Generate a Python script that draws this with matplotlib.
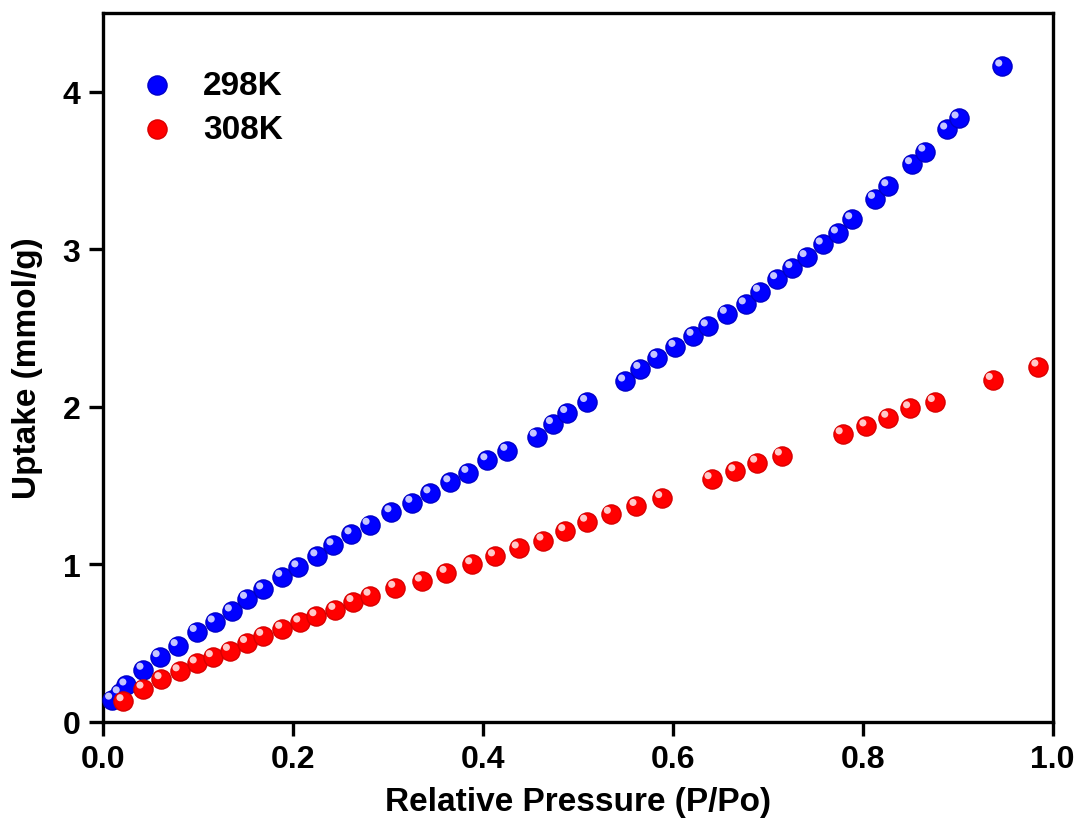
import matplotlib.pyplot as plt
from matplotlib.transforms import offset_copy

# datos
p_298 = [0.010, 0.018, 0.025, 0.043, 0.060, 0.079, 0.099, 0.118, 0.136, 0.152,
         0.169, 0.189, 0.206, 0.226, 0.243, 0.262, 0.281, 0.304, 0.326, 0.345,
         0.366, 0.385, 0.405, 0.426, 0.457, 0.474, 0.489, 0.510, 0.550, 0.566,
         0.584, 0.603, 0.622, 0.637, 0.657, 0.677, 0.692, 0.710, 0.726, 0.741,
         0.758, 0.774, 0.789, 0.813, 0.827, 0.852, 0.866, 0.889, 0.901, 0.947]
q_298 = [0.14, 0.18, 0.23, 0.33, 0.41, 0.48, 0.57, 0.63, 0.70, 0.78,
         0.84, 0.92, 0.98, 1.05, 1.12, 1.19, 1.25, 1.33, 1.39, 1.45,
         1.52, 1.58, 1.66, 1.72, 1.81, 1.89, 1.96, 2.03, 2.16, 2.24,
         2.31, 2.38, 2.45, 2.51, 2.59, 2.65, 2.73, 2.81, 2.88, 2.95,
         3.03, 3.10, 3.19, 3.32, 3.40, 3.54, 3.62, 3.76, 3.83, 4.16]

p_308 = [0.022, 0.043, 0.062, 0.081, 0.099, 0.116, 0.134, 0.152, 0.169, 0.189,
         0.208, 0.225, 0.245, 0.264, 0.282, 0.308, 0.336, 0.362, 0.389, 0.413,
         0.438, 0.464, 0.487, 0.510, 0.535, 0.562, 0.589, 0.641, 0.666, 0.689,
         0.715, 0.779, 0.804, 0.827, 0.850, 0.876, 0.937, 0.985]
q_308 = [0.13, 0.21, 0.27, 0.32, 0.37, 0.41, 0.45, 0.50, 0.545, 0.59,
         0.63, 0.67, 0.71, 0.76, 0.80, 0.85, 0.89, 0.945, 1.00, 1.05,
         1.10, 1.15, 1.21, 1.27, 1.32, 1.37, 1.42, 1.54, 1.59, 1.645,
         1.69, 1.825, 1.875, 1.93, 1.99, 2.03, 2.17, 2.255]

series = [('298K', p_298, q_298, '#0000ff', '#0000c8', '#dcdcff'),
          ('308K', p_308, q_308, '#ff0000', '#d80000', '#ffe0e0')]

plt.rcParams['font.family'] = ['Liberation Sans', 'DejaVu Sans']
plt.rcParams['font.weight'] = 'bold'

fig = plt.figure(figsize=(10.81, 8.20), dpi=100)
ax = fig.add_axes([0.0949, 0.1187, 0.8788, 0.8643])

# esferas: marcador + brillo desplazado
brillo = offset_copy(ax.transData, fig=fig, x=-2.5, y=2.5, units='points')
for nombre, x, y, color, borde, luz in series:
    ax.scatter(x, y, s=190, c=color, edgecolors=borde, linewidths=1.0,
               label=nombre, zorder=3, clip_on=False)
    ax.scatter(x, y, s=26, c=luz, edgecolors='none', alpha=0.9,
               transform=brillo, zorder=4, clip_on=False)

ax.set_xlim(0, 1.0)
ax.set_ylim(0, 4.5)
ax.set_xticks([0.0, 0.2, 0.4, 0.6, 0.8, 1.0])
ax.set_xticklabels(['0.0', '0.2', '0.4', '0.6', '0.8', '1.0'])
ax.set_yticks([0, 1, 2, 3, 4])

for lado in ax.spines.values():
    lado.set_linewidth(2.4)
ax.tick_params(direction='out', length=10, width=2.4, labelsize=23, pad=6)

ax.set_xlabel('Relative Pressure (P/Po)', fontsize=24, fontweight='bold', labelpad=9)
ax.set_ylabel('Uptake (mmol/g)', fontsize=24, fontweight='bold', labelpad=14)

leg = ax.legend(loc='upper left', bbox_to_anchor=(0.008, 0.962), frameon=False,
                fontsize=24, handlelength=1.0, handletextpad=0.88,
                labelspacing=0.4, scatterpoints=1, markerscale=1.0)

fig.savefig('out.png', dpi=100)
